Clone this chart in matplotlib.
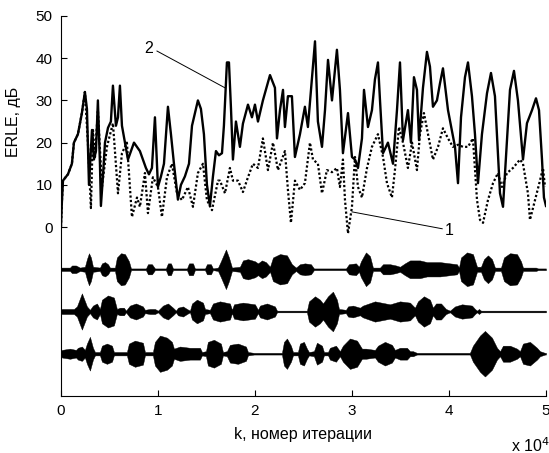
import numpy as np
import matplotlib
matplotlib.use("Agg")
from matplotlib import pyplot as plt

plt.rcParams['font.family'] = ['Liberation Sans', 'DejaVu Sans']

# ERLE, кривая 2 (сплошная), k в единицах 10^4
k_2 = [0, 0.010, 0.021, 0.072, 0.113, 0.134, 0.175, 0.216, 0.247, 0.268, 0.289, 0.320,
       0.340, 0.361, 0.381, 0.402, 0.412, 0.433, 0.454, 0.485, 0.515, 0.536, 0.567, 0.588,
       0.608, 0.629, 0.660, 0.691, 0.722, 0.753, 0.784, 0.814, 0.845, 0.876, 0.907, 0.938,
       0.969, 1.000, 1.031, 1.062, 1.103, 1.134, 1.165, 1.206, 1.237, 1.278, 1.320, 1.351,
       1.381, 1.412, 1.443, 1.474, 1.505, 1.536, 1.567, 1.598, 1.629, 1.660, 1.680, 1.711,
       1.732, 1.753, 1.773, 1.804, 1.845, 1.876, 1.928, 1.969, 2.000, 2.031, 2.082, 2.155,
       2.206, 2.227, 2.258, 2.289, 2.309, 2.340, 2.381, 2.412, 2.464, 2.515, 2.546, 2.588,
       2.619, 2.649, 2.691, 2.722, 2.753, 2.794, 2.845, 2.876, 2.907, 2.959, 3.000, 3.031,
       3.062, 3.103, 3.124, 3.165, 3.206, 3.237, 3.268, 3.289, 3.320, 3.371, 3.423, 3.464,
       3.495, 3.526, 3.577, 3.608, 3.639, 3.670, 3.691, 3.732, 3.773, 3.804, 3.835, 3.876,
       3.907, 3.938, 3.990, 4.062, 4.093, 4.124, 4.165, 4.196, 4.237, 4.268, 4.299, 4.340,
       4.392, 4.433, 4.474, 4.526, 4.557, 4.598, 4.629, 4.670, 4.711, 4.763, 4.804, 4.856,
       4.897, 4.928, 4.959, 4.979, 5.000]
erle_2 = [0, 6, 11, 12.5, 15, 20, 22, 27, 32, 28, 10, 23,
          16, 18, 30, 15, 5, 12, 20, 23.5, 25, 33.5, 24, 26,
          33.5, 24, 20, 16, 18, 20, 19, 18, 16, 14, 12.5, 14,
          26, 9.5, 12, 15, 28.5, 22, 15, 6.5, 10, 12, 15, 24,
          27, 30, 28, 22, 10, 5, 12, 18, 17, 17.5, 24, 39,
          39, 28, 16, 25, 19, 24.5, 29, 26, 29, 25, 30, 36,
          33, 21, 27.7, 32.5, 23.7, 31, 31, 16.6, 22, 28.5, 23.7, 35.5,
          44, 25, 19, 27.7, 39.6, 30, 42, 32.5, 17.5, 27, 16.6, 16,
          14, 21, 32.5, 23.7, 27.7, 35, 39, 30, 17.5, 20, 15, 27.7,
          39, 20.6, 27.7, 20, 35.5, 32.5, 20.6, 33, 41.5, 38, 28.5, 30,
          34, 37.6, 27.7, 19, 10.4, 26, 35.5, 39, 31, 22, 10.4, 22,
          31.7, 36.5, 31, 8, 4.8, 20.6, 32.5, 37, 30, 16, 24.6, 27.7,
          30.5, 27.7, 16, 7, 5]

# ERLE, кривая 1 (пунктир)
k_1 = [0, 0.010, 0.021, 0.072, 0.113, 0.134, 0.175, 0.216, 0.247, 0.278, 0.309, 0.330,
       0.351, 0.381, 0.423, 0.474, 0.536, 0.588, 0.629, 0.680, 0.732, 0.784, 0.814, 0.866,
       0.897, 0.948, 1.000, 1.041, 1.093, 1.144, 1.196, 1.247, 1.309, 1.361, 1.412, 1.464,
       1.505, 1.557, 1.619, 1.639, 1.691, 1.742, 1.773, 1.825, 1.876, 1.928, 1.979, 2.031,
       2.082, 2.134, 2.186, 2.237, 2.309, 2.340, 2.371, 2.412, 2.464, 2.515, 2.567, 2.598,
       2.649, 2.691, 2.742, 2.794, 2.845, 2.876, 2.907, 2.928, 2.959, 3.000, 3.031, 3.062,
       3.103, 3.155, 3.206, 3.268, 3.320, 3.361, 3.412, 3.443, 3.485, 3.526, 3.577, 3.619,
       3.670, 3.701, 3.742, 3.784, 3.835, 3.887, 3.938, 3.990, 4.041, 4.093, 4.144, 4.196,
       4.247, 4.289, 4.320, 4.351, 4.402, 4.454, 4.505, 4.546, 4.598, 4.660, 4.732, 4.763,
       4.814, 4.835, 4.887, 4.938, 4.969, 4.990]
erle_1 = [0, 6, 11, 12.5, 15, 20, 22, 27, 32, 20, 4.5, 23,
          16.6, 27.7, 9.5, 19, 24.6, 8, 17.5, 20, 2.4, 7, 4.8, 12.8,
          3.3, 11.8, 9.5, 2.4, 11.8, 15, 8, 6.4, 9.5, 4.8, 12.8, 15,
          6.4, 4, 11, 11, 8, 14, 11, 11, 8.3, 11.8, 15, 14,
          21, 13.5, 20, 13.5, 18, 8.8, 1, 11, 8.8, 10.4, 20, 16,
          15, 8, 13.5, 13, 14, 9.5, 16, 6.4, -1.5, 4.8, 16.6, 9.5,
          7, 14, 19, 22, 16.6, 10.4, 7, 13.5, 23.7, 20, 14, 20,
          13.5, 22, 27, 22, 16, 19, 23.4, 21, 19, 19.5, 19, 19,
          21, 6.4, 1.7, 1, 6.4, 10.4, 12.8, 9.5, 12.8, 14, 16, 15,
          8, 1.7, 6.4, 11, 14, 9.5]

# огибающие речевых сигналов (полуразмах, в делениях шкалы дБ)
sig1_k = [0, 0.093, 0.113, 0.155, 0.196, 0.247, 0.268, 0.289, 0.309, 0.330, 0.402, 0.423,
          0.454, 0.485, 0.505, 0.557, 0.577, 0.619, 0.660, 0.701, 0.722, 0.876, 0.897, 0.938,
          0.969, 1.082, 1.103, 1.134, 1.155, 1.299, 1.320, 1.361, 1.381, 1.485, 1.505, 1.546,
          1.567, 1.619, 1.649, 1.701, 1.732, 1.763, 1.845, 1.876, 1.928, 2.000, 2.031, 2.072,
          2.113, 2.155, 2.186, 2.258, 2.330, 2.381, 2.423, 2.464, 2.515, 2.577, 2.608, 2.938,
          2.969, 3.041, 3.072, 3.093, 3.144, 3.186, 3.216, 3.289, 3.320, 3.392, 3.454, 3.495,
          3.546, 3.598, 3.701, 3.773, 3.907, 4.010, 4.082, 4.103, 4.124, 4.186, 4.247, 4.289,
          4.330, 4.361, 4.402, 4.443, 4.474, 4.536, 4.567, 4.629, 4.701, 4.742, 4.763, 4.897,
          4.918, 5.0]
sig1_a = [0.4, 0.4, 0.9, 0.9, 0.4, 0.6, 2.4, 3.8, 2.8, 0.6, 0.4, 1.4,
          1.7, 1.2, 0.4, 0.4, 2.8, 3.8, 3.6, 1.9, 0.2, 0.2, 1.2, 1.2,
          0.2, 0.2, 1.4, 1.4, 0.2, 0.2, 1.4, 1.4, 0.2, 0.2, 1.2, 1.2,
          0.2, 0.4, 1.9, 4.7, 2.8, 0.4, 0.6, 2.1, 2.4, 1.9, 1.4, 2.1,
          1.7, 0.6, 2.8, 3.6, 3.3, 1.2, 0.4, 1.2, 1.4, 1.2, 0.2, 0.2,
          1.2, 1.4, 0.6, 1.9, 4.0, 3.1, 0.4, 0.4, 1.2, 1.2, 0.9, 0.6,
          1.4, 2.1, 2.1, 1.7, 1.7, 1.4, 1.2, 0.4, 2.8, 4.0, 3.6, 0.6,
          0.6, 2.4, 3.3, 2.4, 0.4, 0.4, 2.8, 3.8, 3.6, 1.9, 0.4, 0.4,
          0.2, 0.2]

sig2_k = [0, 0.010, 0.134, 0.165, 0.216, 0.268, 0.299, 0.330, 0.371, 0.402, 0.423, 0.485,
          0.546, 0.577, 0.608, 0.649, 0.670, 0.711, 0.773, 0.845, 0.866, 0.918, 0.969, 1.000,
          1.052, 1.103, 1.155, 1.186, 1.206, 1.258, 1.299, 1.330, 1.351, 1.402, 1.464, 1.485,
          1.536, 1.567, 1.639, 1.742, 1.763, 1.784, 1.876, 2.000, 2.031, 2.052, 2.124, 2.206,
          2.227, 2.536, 2.557, 2.619, 2.670, 2.701, 2.753, 2.804, 2.845, 2.866, 2.938, 2.959,
          3.010, 3.082, 3.113, 3.237, 3.392, 3.495, 3.598, 3.649, 3.680, 3.742, 3.804, 3.835,
          3.866, 3.918, 3.969, 4.010, 4.062, 4.134, 4.237, 4.268, 4.289, 4.309, 4.330, 5.0]
sig2_a = [0.2, 0.6, 0.6, 1.2, 4.3, 1.2, 0.4, 1.4, 1.9, 0.6, 2.8, 3.8,
          3.3, 0.6, 0.9, 0.9, 0.2, 1.4, 1.9, 1.2, 0.4, 0.6, 0.6, 0.2,
          1.4, 1.9, 0.9, 0.2, 0.9, 1.2, 0.6, 0.2, 1.9, 2.8, 2.1, 0.6,
          0.4, 1.9, 2.4, 1.9, 0.4, 1.7, 2.1, 1.7, 0.4, 1.4, 1.9, 1.2,
          0.2, 0.2, 2.4, 3.6, 2.8, 1.9, 3.6, 4.7, 2.8, 0.6, 0.4, 1.2,
          1.4, 0.9, 1.4, 2.4, 1.7, 2.4, 2.1, 0.9, 2.4, 3.6, 2.8, 0.9,
          1.9, 1.9, 0.6, 0.2, 1.2, 1.7, 1.4, 0.6, 0.2, 0.6, 0.2, 0.2]

sig3_k = [0, 0.010, 0.093, 0.155, 0.175, 0.216, 0.247, 0.268, 0.299, 0.330, 0.351, 0.402,
          0.423, 0.474, 0.526, 0.546, 0.680, 0.701, 0.763, 0.845, 0.866, 0.948, 0.969, 1.021,
          1.093, 1.144, 1.165, 1.227, 1.330, 1.433, 1.454, 1.495, 1.515, 1.577, 1.649, 1.670,
          1.711, 1.742, 1.825, 1.907, 1.928, 1.990, 2.278, 2.299, 2.330, 2.371, 2.392, 2.443,
          2.464, 2.505, 2.536, 2.557, 2.608, 2.639, 2.691, 2.711, 2.753, 2.773, 2.835, 2.876,
          2.907, 2.979, 3.052, 3.103, 3.144, 3.237, 3.268, 3.340, 3.412, 3.443, 3.495, 3.567,
          3.598, 3.629, 3.670, 4.216, 4.247, 4.320, 4.371, 4.443, 4.495, 4.526, 4.557, 4.629,
          4.701, 4.732, 4.763, 4.835, 4.907, 4.938, 4.990, 5.0]
sig3_a = [0.4, 0.9, 1.2, 0.9, 1.4, 1.7, 0.9, 2.4, 4.0, 1.4, 0.4, 0.4,
          1.9, 2.4, 1.9, 0.4, 0.4, 2.4, 3.1, 2.6, 0.4, 0.4, 2.8, 4.3,
          3.8, 2.8, 1.2, 1.7, 1.4, 1.4, 0.4, 0.6, 2.8, 3.3, 2.4, 0.4,
          0.6, 2.1, 2.4, 1.7, 0.4, 0.2, 0.2, 2.8, 3.6, 1.9, 0.4, 0.4,
          2.4, 2.8, 1.2, 0.4, 0.6, 2.6, 1.9, 0.4, 0.4, 1.4, 1.9, 0.6,
          1.9, 3.6, 3.1, 1.2, 1.2, 0.9, 1.9, 2.8, 2.1, 0.9, 1.4, 1.4,
          0.6, 0.6, 0.2, 0.2, 1.9, 4.3, 5.4, 3.8, 1.4, 0.6, 1.9, 1.9,
          1.2, 0.6, 2.4, 2.8, 1.4, 0.6, 0.2, 0.2]

sig_base = [-10, -20, -30]
x_ticks = [0, 1, 2, 3, 4, 5]
y_ticks = [0, 10, 20, 30, 40, 50]

fig = plt.figure(figsize=(5.49, 4.53), dpi=100)
ax = fig.add_axes([0.111, 0.126, 0.8835, 0.8387])

ax.plot(k_1, erle_1, color='black', linestyle=(0, (1, 1)), linewidth=1.6)
ax.plot(k_2, erle_2, color='black', linestyle='-', linewidth=1.7)

for base, sk, sa in zip(sig_base, [sig1_k, sig2_k, sig3_k], [sig1_a, sig2_a, sig3_a]):
    sk = np.array(sk)
    sa = np.array(sa)
    ax.fill_between(sk, base - sa, base + sa, color='black', linewidth=0.3)

# подписи кривых
ax.plot([0.99, 1.69], [41.7, 33.0], color='black', linewidth=0.7)
ax.text(0.95, 42.4, '2', fontsize=11.5, ha='right', va='center')
ax.plot([3.0, 3.93], [3.6, -0.4], color='black', linewidth=0.7)
ax.text(3.96, -0.7, '1', fontsize=11.5, ha='left', va='center')

ax.set_xlim(0, 5)
ax.set_ylim(-40, 50)
ax.set_xticks(x_ticks)
ax.set_yticks(y_ticks)
ax.tick_params(direction='in', length=4, labelsize=11, width=0.8, pad=6)
ax.spines['top'].set_visible(False)
ax.spines['right'].set_visible(False)
ax.set_xlabel('k, номер итерации', fontsize=11.5, labelpad=6)
ax.text(-0.097, 25, 'ERLE, дБ', rotation=90, fontsize=11.5, ha='center', va='center',
        transform=ax.get_yaxis_transform())
ax.text(0.928, -0.105, 'x 10$^4$', fontsize=11.5, transform=ax.transAxes,
        ha='left', va='top')

fig.savefig('out.png', dpi=100)
